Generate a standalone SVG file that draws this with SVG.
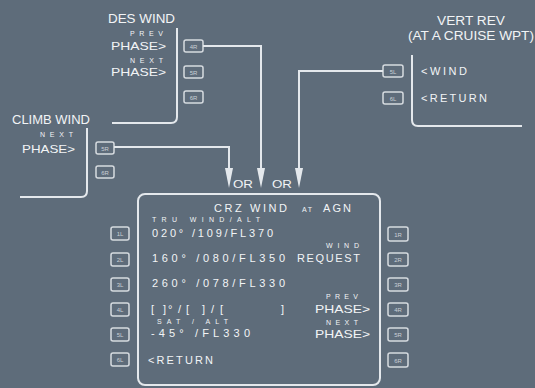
<svg xmlns="http://www.w3.org/2000/svg" width="535" height="388" viewBox="0 0 535 388">
<defs>
<style>
.bg{fill:#5e6c7a}
.ln{fill:none;stroke:#e4e8ec;stroke-width:2}
.key rect{fill:none;stroke:#d6dbe0;stroke-width:1.5}
.key text{font-family:"Liberation Sans",Arial,sans-serif;font-size:6px;fill:#c9d0d6;text-anchor:middle}
.t{font-family:"Liberation Sans",Arial,sans-serif;fill:#f2f4f6}
.h{font-size:12.5px}
.m{font-size:11px}
.s{font-size:7px}
</style>
<marker id="ah" viewBox="0 0 20 8" refX="1" refY="4" markerWidth="20" markerHeight="8" markerUnits="userSpaceOnUse" orient="auto">
<path d="M0,0 L20,4 L0,8 z" fill="#e4e8ec"/>
</marker>
</defs>
<rect class="bg" x="0" y="0" width="535" height="388"/>

<g id="des-wind">
<path class="ln" d="M177,28 V117 Q177,123 171,123 H112"/>
<text class="t h" x="108" y="23" textLength="67" lengthAdjust="spacingAndGlyphs">DES WIND</text>
<text class="t s" x="130" y="36" textLength="33" lengthAdjust="spacing">PREV</text>
<text class="t m" x="111" y="50" textLength="55" lengthAdjust="spacingAndGlyphs">PHASE&gt;</text>
<text class="t s" x="130" y="63" textLength="33" lengthAdjust="spacing">NEXT</text>
<text class="t m" x="111" y="76" textLength="55" lengthAdjust="spacingAndGlyphs">PHASE&gt;</text>
<g class="key"><rect x="184" y="40" width="19" height="12" rx="2"/><text x="193.5" y="48.5">4R</text></g>
<g class="key"><rect x="184" y="66" width="19" height="12" rx="2"/><text x="193.5" y="74.5">5R</text></g>
<g class="key"><rect x="184" y="91" width="19" height="12" rx="2"/><text x="193.5" y="99.5">6R</text></g>
</g>

<g id="climb-wind">
<path class="ln" d="M87,128 V191 Q87,197 81,197 H20"/>
<text class="t h" x="12" y="124" textLength="78" lengthAdjust="spacingAndGlyphs">CLIMB WIND</text>
<text class="t s" x="40" y="137" textLength="33" lengthAdjust="spacing">NEXT</text>
<text class="t m" x="22" y="153" textLength="53" lengthAdjust="spacingAndGlyphs">PHASE&gt;</text>
<g class="key"><rect x="96" y="142" width="18" height="12" rx="2"/><text x="105" y="150.5">5R</text></g>
<g class="key"><rect x="96" y="166" width="18" height="12" rx="2"/><text x="105" y="174.5">6R</text></g>
</g>

<g id="vert-rev">
<path class="ln" d="M412,55 V120 Q412,126 418,126 H522"/>
<text class="t h" x="471" y="25" text-anchor="middle" textLength="68" lengthAdjust="spacingAndGlyphs">VERT REV</text>
<text class="t h" x="471" y="40" text-anchor="middle" textLength="126" lengthAdjust="spacingAndGlyphs">(AT A CRUISE WPT)</text>
<text class="t m" x="421" y="75" textLength="46" lengthAdjust="spacing">&lt;WIND</text>
<text class="t m" x="421" y="102" textLength="66" lengthAdjust="spacing">&lt;RETURN</text>
<g class="key"><rect x="383" y="65" width="20" height="12" rx="2"/><text x="393" y="73.5">5L</text></g>
<g class="key"><rect x="383" y="92" width="20" height="12" rx="2"/><text x="393" y="100.5">6L</text></g>
</g>

<g id="connectors">
<path class="ln" d="M203,46 H261 V169" marker-end="url(#ah)"/>
<path class="ln" d="M114,147 H229 V169" marker-end="url(#ah)"/>
<path class="ln" d="M383,71 H299 V169" marker-end="url(#ah)"/>
<text class="t m" x="233" y="188" textLength="20" lengthAdjust="spacingAndGlyphs">OR</text>
<text class="t m" x="272" y="188" textLength="20" lengthAdjust="spacingAndGlyphs">OR</text>
</g>

<g id="crz-wind-page">
<rect class="ln" x="138" y="194" width="242" height="191" rx="7"/>
<text class="t m" x="214" y="212" textLength="73" lengthAdjust="spacing">CRZ WIND</text>
<text class="t s" x="302" y="212" textLength="10" lengthAdjust="spacing">AT</text>
<text class="t m" x="323" y="212" textLength="28" lengthAdjust="spacing">AGN</text>
<text class="t s" x="152" y="222" textLength="108" lengthAdjust="spacing">TRU  WIND/ALT</text>
<text class="t m" x="152" y="237" textLength="121" lengthAdjust="spacing">020° /109/FL370</text>
<text class="t s" x="326" y="248" textLength="33" lengthAdjust="spacing">WIND</text>
<text class="t m" x="152" y="262" textLength="133" lengthAdjust="spacing">160°  /080/FL350</text>
<text class="t m" x="297" y="262" textLength="63" lengthAdjust="spacing">REQUEST</text>
<text class="t m" x="152" y="287" textLength="133" lengthAdjust="spacing">260°  /078/FL330</text>
<text class="t s" x="326" y="299" textLength="32" lengthAdjust="spacing">PREV</text>
<text class="t m" y="313"><tspan x="151">[</tspan><tspan x="163">]</tspan><tspan x="168">°</tspan><tspan x="178">/</tspan><tspan x="186">[</tspan><tspan x="202">]</tspan><tspan x="211">/</tspan><tspan x="220">[</tspan><tspan x="281">]</tspan></text>
<text class="t m" x="315" y="313" textLength="55" lengthAdjust="spacingAndGlyphs">PHASE&gt;</text>
<text class="t s" x="157" y="324" textLength="71" lengthAdjust="spacing">SAT / ALT</text>
<text class="t s" x="326" y="325" textLength="32" lengthAdjust="spacing">NEXT</text>
<text class="t m" x="151" y="337" textLength="99" lengthAdjust="spacing">-45°  /FL330</text>
<text class="t m" x="315" y="338" textLength="55" lengthAdjust="spacingAndGlyphs">PHASE&gt;</text>
<text class="t m" x="148" y="364" textLength="65" lengthAdjust="spacing">&lt;RETURN</text>
<g class="key"><rect x="111" y="227" width="18" height="13" rx="2"/><text x="120" y="236">1L</text></g>
<g class="key"><rect x="111" y="253" width="18" height="13" rx="2"/><text x="120" y="262">2L</text></g>
<g class="key"><rect x="111" y="278" width="18" height="13" rx="2"/><text x="120" y="287">3L</text></g>
<g class="key"><rect x="111" y="303" width="18" height="13" rx="2"/><text x="120" y="312">4L</text></g>
<g class="key"><rect x="111" y="328" width="18" height="13" rx="2"/><text x="120" y="337">5L</text></g>
<g class="key"><rect x="111" y="353" width="18" height="13" rx="2"/><text x="120" y="362">6L</text></g>
<g class="key"><rect x="388" y="227" width="20" height="14" rx="2"/><text x="398" y="236.5">1R</text></g>
<g class="key"><rect x="388" y="253" width="20" height="13" rx="2"/><text x="398" y="262">2R</text></g>
<g class="key"><rect x="388" y="278" width="20" height="13" rx="2"/><text x="398" y="287">3R</text></g>
<g class="key"><rect x="388" y="303" width="20" height="13" rx="2"/><text x="398" y="312">4R</text></g>
<g class="key"><rect x="388" y="328" width="20" height="13" rx="2"/><text x="398" y="337">5R</text></g>
<g class="key"><rect x="388" y="353" width="20" height="14" rx="2"/><text x="398" y="362.5">6R</text></g>
</g>
</svg>
